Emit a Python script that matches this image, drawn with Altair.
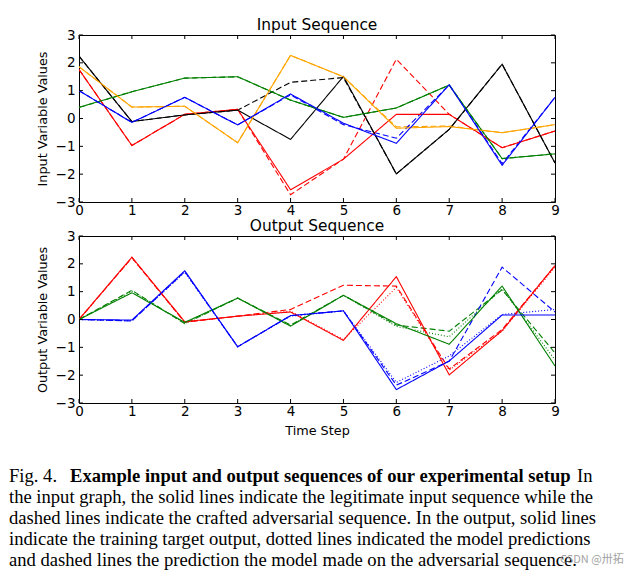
import altair as alt
import pandas as pd

steps = list(range(10))
y_ticks = [-3, -2, -1, 0, 1, 2, 3]

# ---- Input sequence (solid = legitimate, dashed = adversarial)
in_red = [1.76, -0.97, 0.15, 0.33, -2.56, -1.46, 0.15, 0.15, -1.05, -0.45]
in_red_adv = [1.76, -0.97, 0.15, 0.33, -2.74, -1.46, 2.13, 0.15, -1.05, -0.45]
in_black = [2.24, -0.11, 0.13, 0.30, -0.75, 1.51, -1.99, -0.39, 1.95, -1.60]
in_black_adv = [2.24, -0.11, 0.13, 0.30, 1.30, 1.47, -1.99, -0.39, 1.95, -1.60]
in_green = [0.40, 0.96, 1.45, 1.50, 0.66, 0.04, 0.38, 1.20, -1.44, -1.27]
in_green_adv = [0.40, 0.96, 1.45, 1.50, 0.66, 0.04, 0.38, 1.20, -1.44, -1.27]
in_orange = [1.86, 0.41, 0.44, -0.87, 2.27, 1.50, -0.35, -0.29, -0.51, -0.22]
in_orange_adv = [1.86, 0.41, 0.44, -0.87, 2.27, 1.50, -0.30, -0.27, -0.51, -0.22]
in_blue = [1.00, -0.14, 0.76, -0.23, 0.88, -0.17, -0.89, 1.21, -1.68, 0.76]
in_blue_adv = [1.00, -0.14, 0.76, -0.23, 0.85, -0.22, -0.71, 1.21, -1.62, 0.76]

# ---- Output sequence (solid = target, dotted = prediction, dashed = adversarial prediction)
out_red = [0, 2.24, -0.08, 0.12, 0.27, -0.75, 1.54, -1.99, -0.40, 1.94]
out_red_pred = [0, 2.22, -0.10, 0.12, 0.30, -0.72, 1.15, -1.82, -0.42, 1.88]
out_red_adv = [0, 2.22, -0.10, 0.12, 0.36, 1.23, 1.20, -1.78, -0.36, 1.93]
out_green = [0, 0.96, -0.10, 0.77, -0.24, 0.87, -0.15, -0.89, 1.20, -1.67]
out_green_pred = [0, 1.02, -0.14, 0.77, -0.22, 0.87, -0.25, -0.62, 1.10, -1.45]
out_green_adv = [0, 1.05, -0.15, 0.77, -0.20, 0.87, -0.20, -0.42, 1.07, -1.20]
out_blue = [0, -0.02, 1.75, -0.98, 0.14, 0.31, -2.52, -1.49, 0.16, 0.16]
out_blue_pred = [0, -0.05, 1.70, -0.98, 0.12, 0.31, -2.26, -1.31, 0.18, 0.36]
out_blue_adv = [0, -0.05, 1.72, -0.98, 0.14, 0.31, -2.36, -1.50, 1.88, 0.27]

caption_lines = [
    "the input graph, the solid lines indicate the legitimate input sequence while the",
    "dashed lines indicate the crafted adversarial sequence. In the output, solid lines",
    "indicate the training target output, dotted lines indicated the model predictions",
    "and dashed lines the prediction the model made on the adversarial sequence.",
]
caption_head = "Fig. 4."
caption_bold = "Example input and output sequences of our experimental setup"
caption_tail = "In"
watermark = "CSDN @卅拓"

color_domain = ["red", "blue", "green", "orange", "black"]
color_range = ["#ff0000", "#0000ff", "#008000", "#ffa500", "#000000"]
style_domain = ["solid", "dashed", "dotted"]
style_range = [[1, 0], [6, 3], [1, 2]]

W, H = 476, 167
FONT = "DejaVu Sans"


def long_df(series):
    rows = []
    for key, color, style, vals in series:
        for s, v in zip(steps, vals):
            rows.append(dict(step=s, value=v, color=color, style=style, key=key))
    return pd.DataFrame(rows)


in_df = long_df([
    ("r_adv", "red", "dashed", in_red_adv), ("k_adv", "black", "dashed", in_black_adv),
    ("g_adv", "green", "dashed", in_green_adv), ("o_adv", "orange", "dashed", in_orange_adv),
    ("b_adv", "blue", "dashed", in_blue_adv),
    ("r", "red", "solid", in_red), ("k", "black", "solid", in_black),
    ("g", "green", "solid", in_green), ("o", "orange", "solid", in_orange),
    ("b", "blue", "solid", in_blue),
])
out_df = long_df([
    ("r_adv", "red", "dashed", out_red_adv), ("g_adv", "green", "dashed", out_green_adv),
    ("b_adv", "blue", "dashed", out_blue_adv),
    ("r_pred", "red", "dotted", out_red_pred), ("g_pred", "green", "dotted", out_green_pred),
    ("b_pred", "blue", "dotted", out_blue_pred),
    ("r", "red", "solid", out_red), ("g", "green", "solid", out_green),
    ("b", "blue", "solid", out_blue),
])

xt = pd.DataFrame({"step": steps})
yt = pd.DataFrame({"value": y_ticks})


def panel(df, title, ytitle, xtitle=None):
    xaxis_kw = dict(values=steps, ticks=False, domain=False, grid=False, labelFont=FONT,
                    labelFontSize=13.5, labelColor="black", labelPadding=1, labelFlush=False)
    if xtitle:
        xaxis_kw.update(title=xtitle, titleFont=FONT, titleFontSize=12.8,
                        titleFontWeight="normal", titleColor="black", titlePadding=7)
    else:
        xaxis_kw.update(title="")
    xs = alt.Scale(domain=[0, 9], nice=False, zero=False)
    ys = alt.Scale(domain=[-3, 3], nice=False)
    xenc = alt.X("step:Q", scale=xs, axis=alt.Axis(**xaxis_kw))
    yenc = alt.Y("value:Q", scale=ys, axis=alt.Axis(
        values=y_ticks, ticks=False, domain=False, grid=False, labelFont=FONT,
        labelFontSize=13.5, labelColor="black", labelPadding=4, labelFlush=False,
        title=ytitle, titleFont=FONT, titleFontSize=12.8, titleFontWeight="normal",
        titleColor="black", titlePadding=6))
    lines = alt.Chart(df).mark_line(strokeWidth=1.1, clip=True).encode(
        x=xenc, y=yenc,
        color=alt.Color("color:N", scale=alt.Scale(domain=color_domain, range=color_range), legend=None),
        strokeDash=alt.StrokeDash("style:N", scale=alt.Scale(domain=style_domain, range=style_range), legend=None),
        detail="key:N",
    )
    top = alt.Chart(xt).mark_rule(color="black", strokeWidth=1).encode(x=xenc, y=alt.value(0), y2=alt.value(4))
    bot = alt.Chart(xt).mark_rule(color="black", strokeWidth=1).encode(x=xenc, y=alt.value(H), y2=alt.value(H - 4))
    lef = alt.Chart(yt).mark_rule(color="black", strokeWidth=1).encode(y=yenc, x=alt.value(0), x2=alt.value(4))
    rig = alt.Chart(yt).mark_rule(color="black", strokeWidth=1).encode(y=yenc, x=alt.value(W - 4), x2=alt.value(W))
    return alt.layer(lines, top, bot, lef, rig).properties(
        width=W, height=H,
        view=alt.ViewConfig(stroke="black", strokeWidth=1),
        title=alt.TitleParams(title, font=FONT, fontSize=15.4, fontWeight="normal", color="black",
                              anchor="middle", offset=-5),
    )


p1 = panel(in_df, "Input Sequence", "Input Variable Values")
p2 = panel(out_df, "Output Sequence", "Output Variable Values", "Time Step")

# ---- caption
SERIF = "Liberation Serif"
CFS = 18.6
cap_df = pd.DataFrame({"line": [1, 2, 3, 4], "text": caption_lines})
head_df = pd.DataFrame({"line": [0], "a": [caption_head], "b": [caption_bold], "c": [caption_tail]})
cy = alt.Y("line:Q", scale=alt.Scale(domain=[0, 4], range=[39, 123]), axis=None)
cap_body = alt.Chart(cap_df).mark_text(align="left", baseline="middle", font=SERIF, fontSize=CFS,
                                        color="black").encode(x=alt.value(-70), y=cy, text="text:N")
cap_a = alt.Chart(head_df).mark_text(align="left", baseline="middle", font=SERIF, fontSize=CFS,
                                      color="black").encode(x=alt.value(-70), y=cy, text="a:N")
cap_b = alt.Chart(head_df).mark_text(align="left", baseline="middle", font=SERIF, fontSize=CFS,
                                      fontWeight="bold", color="black").encode(x=alt.value(-9), y=cy, text="b:N")
cap_c = alt.Chart(head_df).mark_text(align="left", baseline="middle", font=SERIF, fontSize=CFS,
                                      color="black").encode(x=alt.value(498), y=cy, text="c:N")
wm_df = pd.DataFrame({"line": [4], "t": [watermark]})
cap_w = alt.Chart(wm_df).mark_text(align="left", baseline="middle", font="Noto Sans CJK SC", fontSize=11,
                                    color="#999999", opacity=0.9).encode(x=alt.value(481), y=cy, text="t:N")
caption = alt.layer(cap_body, cap_a, cap_b, cap_c, cap_w).properties(
    width=W, height=120, view=alt.ViewConfig(stroke="transparent"))

chart = alt.vconcat(p1, p2, caption, spacing=34, bounds="flush").properties(
    padding={"left": 0, "top": 9, "right": 0, "bottom": 0}
).configure(background="white")

chart.save("out.html", embed_options={"renderer": "svg", "actions": False})
